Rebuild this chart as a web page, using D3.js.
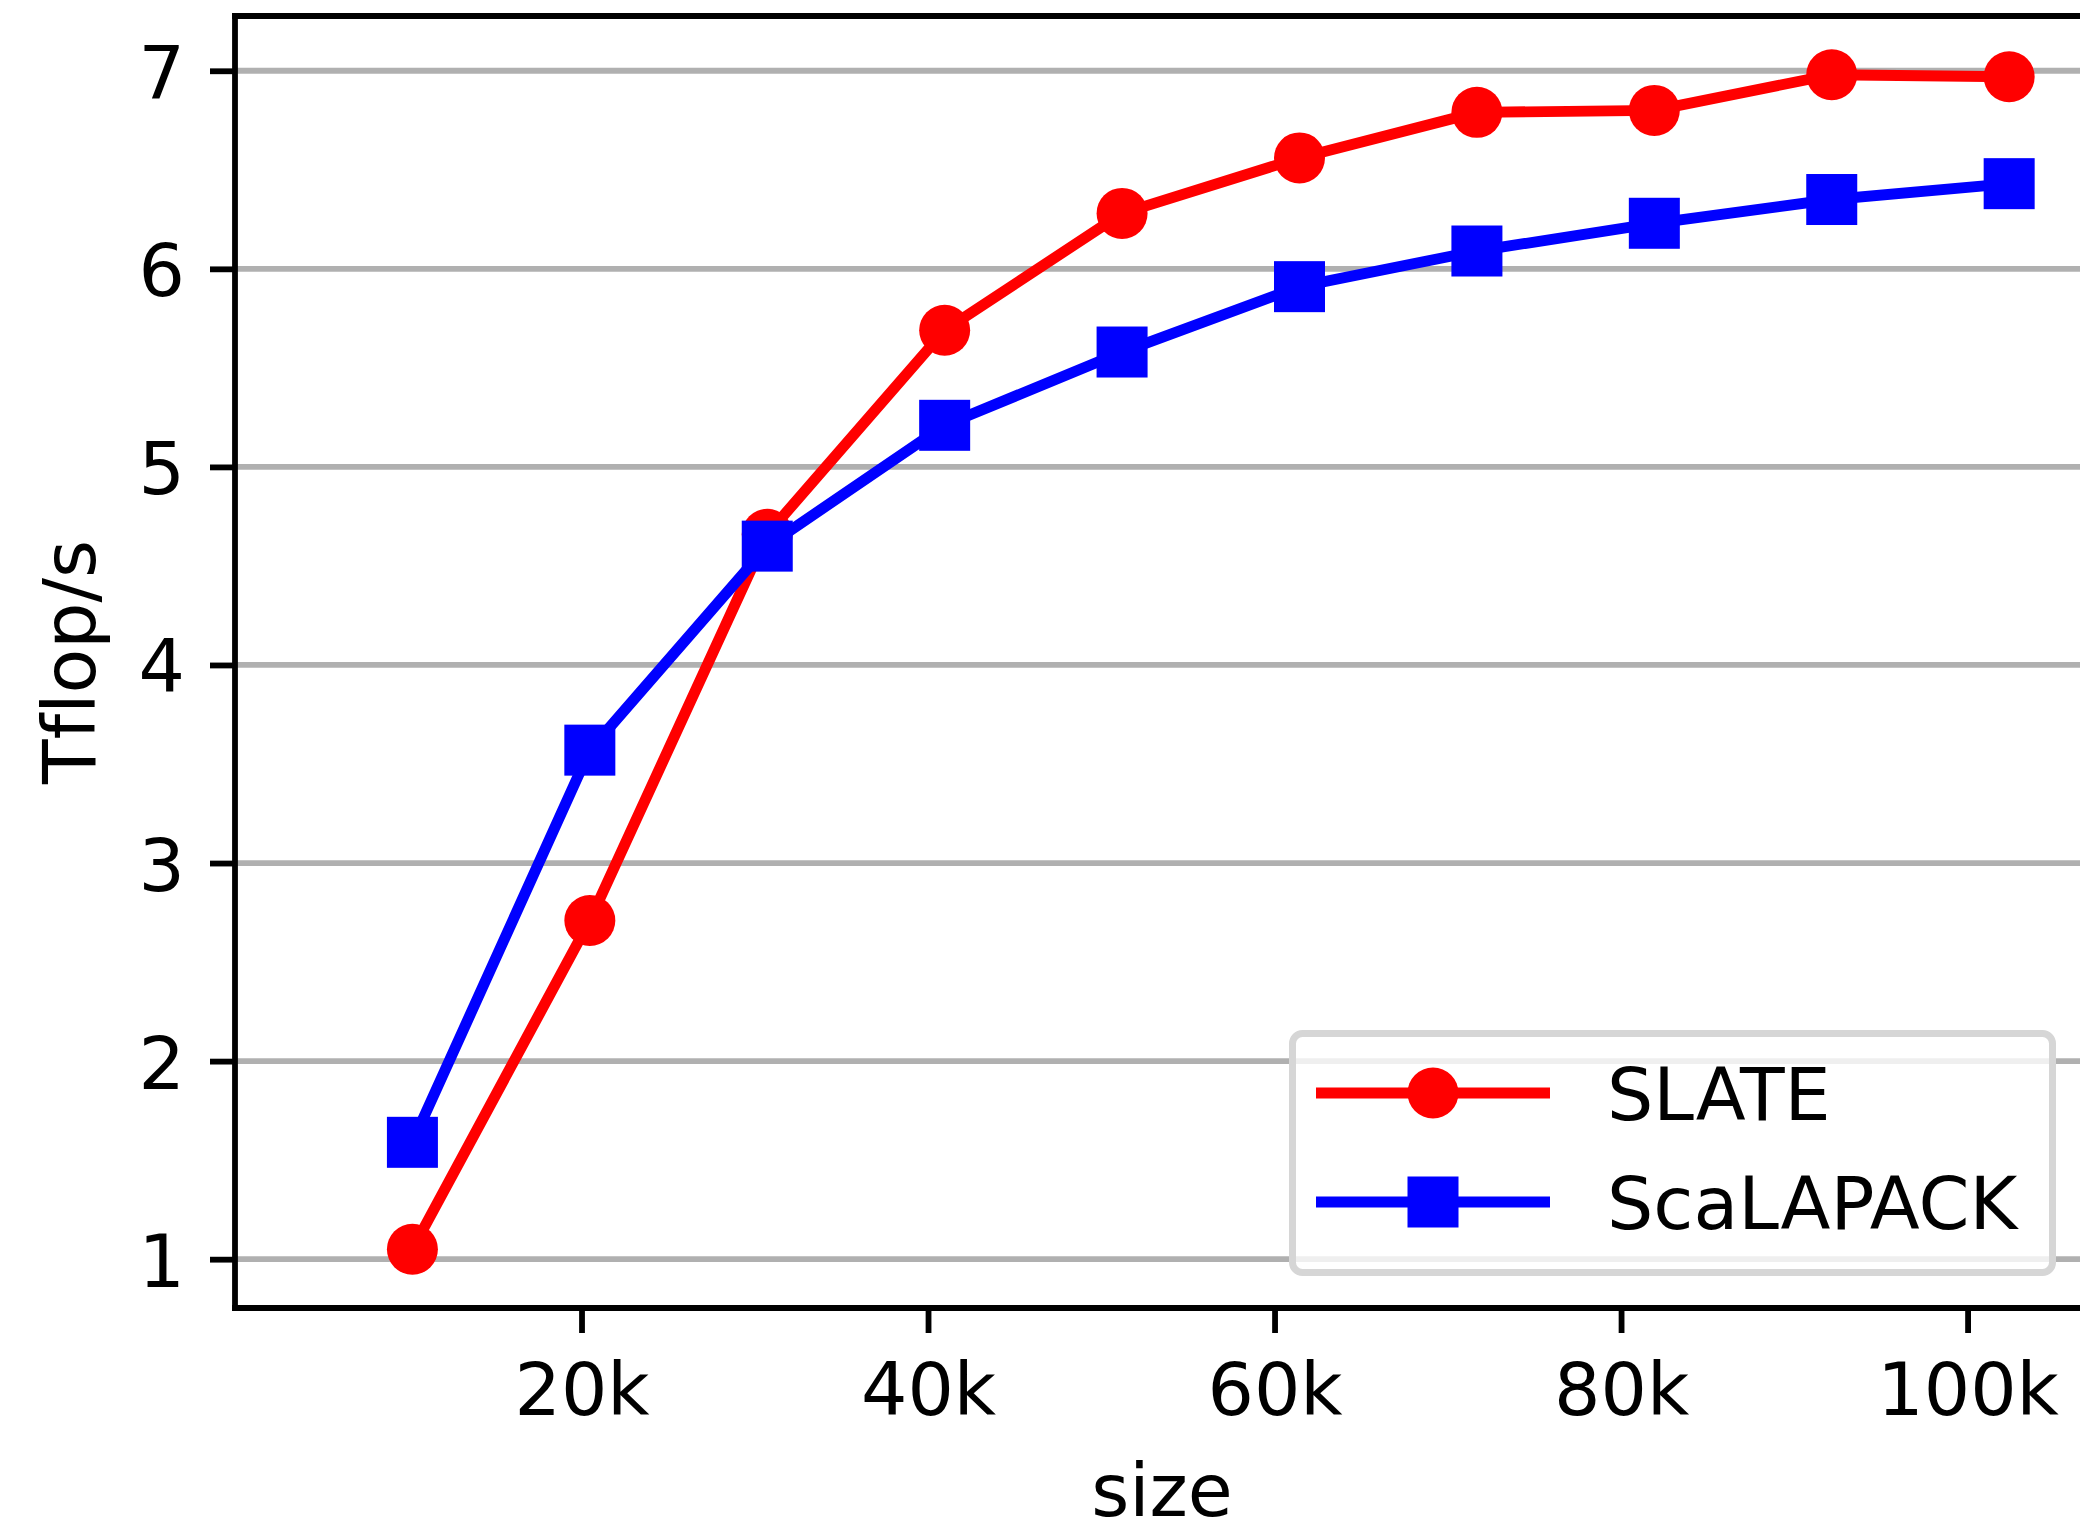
<!DOCTYPE html>
<html>
<head>
<meta charset="utf-8">
<script src="https://cdn.jsdelivr.net/npm/d3@7"></script>
<style>
  html, body { margin: 0; padding: 0; background: #fff; }
  svg { display: block; font-family: 'DejaVu Sans', sans-serif; font-variant-ligatures: none; }
  text { font-variant-ligatures: none; font-feature-settings: "liga" 0, "clig" 0; }
</style>
</head>
<body>
<div id="chart"></div>
<script>
// matrix sizes and measured Tflop/s
const sizes = [10240, 20480, 30720, 40960, 51200, 61440, 71680, 81920, 92160, 102400];
const slate = [1.05, 2.71, 4.66, 5.69, 6.28, 6.56, 6.79, 6.80, 6.98, 6.97];
const scalapack = [1.59, 3.57, 4.60, 5.21, 5.58, 5.91, 6.09, 6.23, 6.35, 6.43];
const seriesNames = ['SLATE', 'ScaLAPACK'];
const xTicks = [20000, 40000, 60000, 80000, 100000];
const yTicks = [1, 2, 3, 4, 5, 6, 7];

const width = 2080;
const height = 1530;
const margin = { top: 16, right: -9, bottom: 222, left: 235 };
const fontSize = 73;

const series = [
  { name: seriesNames[0], values: slate, color: '#ff0000', marker: 'circle' },
  { name: seriesNames[1], values: scalapack, color: '#0000ff', marker: 'square' },
];

const svg = d3
  .select('#chart')
  .append('svg')
  .attr('width', width)
  .attr('height', height);

// autoscale like matplotlib: 5% margins, x starts at 0
const allY = slate.concat(scalapack);
const yMin = d3.min(allY);
const yMax = d3.max(allY);
const yPad = (yMax - yMin) * 0.05;
const xPad = (d3.max(sizes) - d3.min(sizes)) * 0.05;

const x = d3
  .scaleLinear()
  .domain([0, d3.max(sizes) + xPad])
  .range([margin.left, width - margin.right]);

const y = d3
  .scaleLinear()
  .domain([yMin - yPad, yMax + yPad])
  .range([height - margin.bottom, margin.top]);

const plotLeft = x.range()[0];
const plotRight = x.range()[1];
const plotTop = y.range()[1];
const plotBottom = y.range()[0];

// horizontal grid
svg
  .append('g')
  .selectAll('line')
  .data(yTicks)
  .join('line')
  .attr('x1', plotLeft)
  .attr('x2', plotRight)
  .attr('y1', (d) => y(d))
  .attr('y2', (d) => y(d))
  .attr('stroke', '#b0b0b0')
  .attr('stroke-width', 5.8);

// axes
const xAxis = svg
  .append('g')
  .attr('transform', `translate(0, ${plotBottom})`)
  .call(
    d3
      .axisBottom(x)
      .tickValues(xTicks)
      .tickSize(25)
      .tickPadding(0)
      .tickFormat((d) => `${d / 1000}k`)
  );

const yAxis = svg
  .append('g')
  .attr('transform', `translate(${plotLeft}, 0)`)
  .call(
    d3
      .axisLeft(y)
      .tickValues(yTicks)
      .tickSize(25)
      .tickPadding(0)
      .tickFormat(d3.format('d'))
  );

[xAxis, yAxis].forEach((axis) => {
  axis.select('.domain').remove();
  axis.selectAll('.tick line').attr('stroke', '#000').attr('stroke-width', 5.8);
  axis
    .selectAll('.tick text')
    .attr('fill', '#000')
    .attr('font-size', fontSize)
    .attr('font-family', "'DejaVu Sans', sans-serif");
});

xAxis.selectAll('.tick text').attr('y', 107).attr('dy', null);
yAxis.selectAll('.tick text').attr('x', -50).attr('dy', null).attr('y', 27);

// spines
const spines = [
  [plotLeft, plotTop, plotLeft, plotBottom],
  [plotLeft, plotBottom, plotRight, plotBottom],
  [plotLeft, plotTop, plotRight, plotTop],
  [plotRight, plotTop, plotRight, plotBottom],
];
svg
  .append('g')
  .selectAll('line')
  .data(spines)
  .join('line')
  .attr('x1', (d) => d[0])
  .attr('y1', (d) => d[1])
  .attr('x2', (d) => d[2])
  .attr('y2', (d) => d[3])
  .attr('stroke', '#000')
  .attr('stroke-width', 5.8)
  .attr('stroke-linecap', 'square');

// axis labels
svg
  .append('text')
  .attr('transform', `translate(95, ${(plotTop + plotBottom) / 2}) rotate(-90)`)
  .attr('text-anchor', 'middle')
  .attr('font-size', fontSize)
  .text('Tflop/s');

svg
  .append('text')
  .attr('x', (plotLeft + plotRight) / 2)
  .attr('y', 1516)
  .attr('text-anchor', 'middle')
  .attr('font-size', fontSize)
  .text('size');

const markerSize = 51;

const drawMarker = (g, kind, cx, cy, color) => {
  if (kind === 'circle') {
    g.append('circle')
      .attr('cx', cx)
      .attr('cy', cy)
      .attr('r', markerSize / 2)
      .attr('fill', color);
  } else {
    g.append('rect')
      .attr('x', cx - markerSize / 2)
      .attr('y', cy - markerSize / 2)
      .attr('width', markerSize)
      .attr('height', markerSize)
      .attr('fill', color);
  }
};

const line = d3
  .line()
  .x((d) => x(d[0]))
  .y((d) => y(d[1]));

series.forEach((s) => {
  const g = svg.append('g');
  const pts = sizes.map((size, i) => [size, s.values[i]]);
  g.append('path')
    .datum(pts)
    .attr('fill', 'none')
    .attr('stroke', s.color)
    .attr('stroke-width', 10.9)
    .attr('stroke-linejoin', 'round')
    .attr('d', line);
  pts.forEach((p) => drawMarker(g, s.marker, x(p[0]), y(p[1]), s.color));
});

// legend
const legend = svg.append('g');
legend
  .append('rect')
  .attr('x', 1292.5)
  .attr('y', 1033.5)
  .attr('width', 760)
  .attr('height', 239)
  .attr('rx', 10)
  .attr('fill', 'rgba(255,255,255,0.8)')
  .attr('stroke', '#d6d6d6')
  .attr('stroke-width', 7);

series.forEach((s, i) => {
  const rowY = 1093 + i * 109;
  legend
    .append('line')
    .attr('x1', 1316)
    .attr('x2', 1550)
    .attr('y1', rowY)
    .attr('y2', rowY)
    .attr('stroke', s.color)
    .attr('stroke-width', 10.9);
  drawMarker(legend, s.marker, 1433, rowY, s.color);
  legend
    .append('text')
    .attr('x', 1607)
    .attr('y', rowY + 27)
    .attr('font-size', fontSize)
    .text(s.name);
});
</script>
</body>
</html>
